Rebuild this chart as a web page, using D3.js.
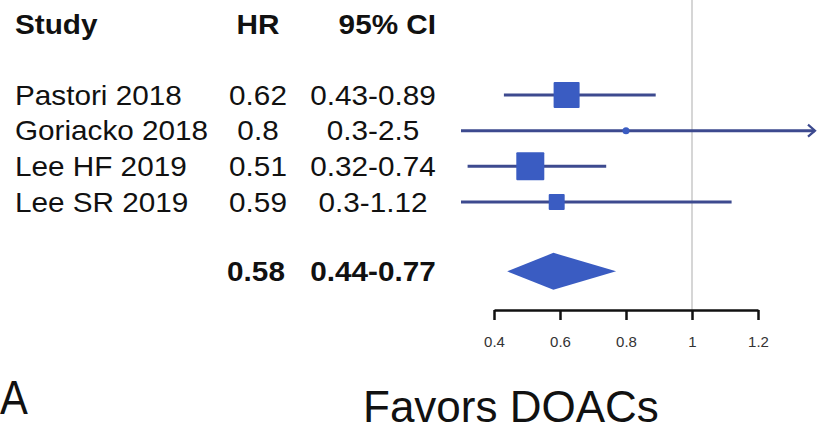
<!DOCTYPE html>
<html>
<head>
<meta charset="utf-8">
<script src="https://cdn.jsdelivr.net/npm/d3@7"></script>
<style>
  body { margin: 0; background: #fff; }
  svg { display: block; }
  text { font-family: "Liberation Sans", Arial, sans-serif; fill: #111; }
</style>
</head>
<body>
<svg id="chart" width="817" height="432"></svg>
<script>
// data
var studies = ["Pastori 2018", "Goriacko 2018", "Lee HF 2019", "Lee SR 2019"];
var hr      = [0.62, 0.8, 0.51, 0.59];
var lower   = [0.43, 0.3, 0.32, 0.3];
var upper   = [0.89, 2.5, 0.74, 1.12];
var weights = [34.5, 2.2, 40, 13];   // study weight (%), drives box size
var hrLabels = ["0.62", "0.8", "0.51", "0.59"];
var ciLabels = ["0.43-0.89", "0.3-2.5", "0.32-0.74", "0.3-1.12"];

var pooled = { hr: 0.58, lo: 0.44, hi: 0.77, hrLabel: "0.58", ciLabel: "0.44-0.77" };
var tickVals = [0.4, 0.6, 0.8, 1, 1.2];

var svg = d3.select("#chart");

// scales
var x = d3.scaleLinear().domain([0.4, 1.2]).range([494, 758]);
var xMax = 815;                       // right edge of the plot, arrow beyond this
var y = d3.scaleLinear().domain([0, 3]).range([95, 202]);  // row index -> centre
var rowStep = y(1) - y(0);
var boxSize = d3.scaleSqrt().domain([0, 40]).range([0, 28]);

var lineCol = "#3d4a8f";
var boxCol = "#3a5cc2";

// text helper, the source text is a bit stretched horizontally
function txt(s, px, py, opt) {
  opt = opt || {};
  return svg.append("text")
    .attr("transform", "translate(" + px + "," + py + ") scale(" + (opt.sx || 1.1) + ",1)")
    .attr("text-anchor", opt.anchor || "start")
    .style("font-size", (opt.size || 27) + "px")
    .style("font-weight", opt.bold ? "bold" : "normal")
    .text(s);
}

// reference line at HR = 1
var axisY = 310;
svg.append("line")
  .attr("x1", x(1)).attr("x2", x(1))
  .attr("y1", 0).attr("y2", axisY)
  .attr("stroke", "#c9c9c9")
  .attr("stroke-width", 1.5);

// header
var headY = y(-2) + 10;
txt("Study", 15, headY, { bold: true });
txt("HR", 258, headY, { bold: true, anchor: "middle" });
txt("95% CI", 436, headY, { bold: true, anchor: "end" });

// study rows
studies.forEach(function(name, i) {
  var cy = y(i);
  txt(name, 15, cy + 9.5);
  txt(hrLabels[i], 258, cy + 9.5, { anchor: "middle" });
  txt(ciLabels[i], 373, cy + 9.5, { anchor: "middle" });

  var x2 = Math.min(x(upper[i]), xMax);
  svg.append("line")
    .attr("x1", x(lower[i])).attr("x2", x2)
    .attr("y1", cy).attr("y2", cy)
    .attr("stroke", lineCol)
    .attr("stroke-width", 3);

  if (x(upper[i]) > xMax) {
    svg.append("path")
      .attr("d", "M" + (xMax - 7) + "," + (cy - 6) + "L" + xMax + "," + cy + "L" + (xMax - 7) + "," + (cy + 6))
      .attr("fill", "none")
      .attr("stroke", lineCol)
      .attr("stroke-width", 2.2);
  }

  var s = Math.max(boxSize(weights[i]), 7);
  svg.append("rect")
    .attr("x", x(hr[i]) - s / 2)
    .attr("y", cy - s / 2)
    .attr("width", s)
    .attr("height", s)
    .attr("rx", s < 10 ? s / 2 : 1)
    .attr("fill", boxCol);
});

// pooled estimate
var py = y(3) + 2 * rowStep - 2;
txt(pooled.hrLabel, 256, py + 10, { anchor: "middle", bold: true });
txt(pooled.ciLabel, 373, py + 10, { anchor: "middle", bold: true });
svg.append("path")
  .attr("d", "M" + x(pooled.lo) + "," + py +
             "L" + x(pooled.hr) + "," + (py - 18.5) +
             "L" + x(pooled.hi) + "," + py +
             "L" + x(pooled.hr) + "," + (py + 18.5) + "Z")
  .attr("fill", boxCol);

// axis
var axis = d3.axisBottom(x)
  .tickValues(tickVals)
  .tickSize(10)
  .tickSizeOuter(0)
  .tickPadding(16)
  .tickFormat(function(d) { return String(d); });

var ax = svg.append("g")
  .attr("transform", "translate(0," + axisY + ")")
  .call(axis);
ax.select(".domain").attr("stroke", "#111").attr("stroke-width", 2.5);
ax.selectAll(".tick line").attr("stroke", "#111").attr("stroke-width", 2.5);
ax.selectAll(".tick text")
  .style("font-family", "'Liberation Sans', Arial, sans-serif")
  .style("font-size", "15px")
  .style("fill", "#333");

// bottom labels
txt("A", 0, 414, { size: 48, sx: 0.87 });
txt("Favors DOACs", 363, 422, { size: 44, sx: 1.0 });
</script>
</body>
</html>
